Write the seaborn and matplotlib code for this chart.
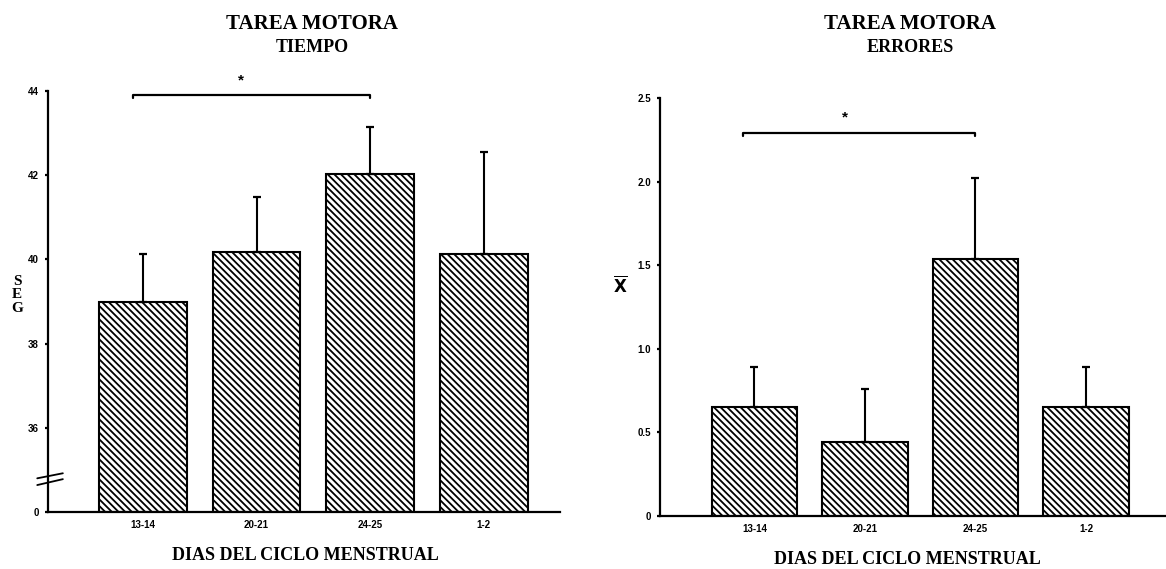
import numpy as np
import matplotlib
matplotlib.use("Agg")
import matplotlib.pyplot as plt
import seaborn as sns

# ---- data ----
categories = ["13-14", "20-21", "24-25", "1-2"]
tiempo_mean = [38.98, 40.17, 42.02, 40.14]
tiempo_err = [1.16, 1.32, 1.12, 2.41]
errores_mean = [0.65, 0.44, 1.54, 0.65]
errores_err = [0.24, 0.32, 0.48, 0.24]
tiempo_ticks = [0, 36, 38, 40, 42, 44]
tiempo_ticklabels = ["0", "36", "38", "40", "42", "44"]
errores_ticks = [0, 0.5, 1.0, 1.5, 2.0, 2.5]
errores_ticklabels = ["0", "0.5", "1.0", "1.5", "2.0", "2.5"]
title_top = "TAREA MOTORA"
title_left = "TIEMPO"
title_right = "ERRORES"
xlabel = "DIAS DEL CICLO MENSTRUAL"
sig_pair = (0, 2)

sns.set_style("white")
plt.rcParams["font.family"] = ["Liberation Sans", "DejaVu Sans"]
plt.rcParams["hatch.linewidth"] = 1.3
plt.rcParams["hatch.color"] = "black"
for k in ["text.color", "axes.labelcolor", "xtick.color", "ytick.color"]:
    plt.rcParams[k] = "black"

W, H = 1166, 569
fig = plt.figure(figsize=(W / 100, H / 100), dpi=100)
axL = fig.add_axes([48 / W, 1 - 512 / H, 512 / W, 421 / H])
axR = fig.add_axes([660 / W, 1 - 516 / H, 505 / W, 418 / H])

serif = ["Liberation Serif", "DejaVu Serif"]
tickfont = dict(fontsize=7, fontweight="bold", color="black")
HATCH = "\\" * 5


def draw(ax, means, errs):
    sns.barplot(x=categories, y=means, ax=ax, color="white", edgecolor="black",
                linewidth=1.5, width=0.77, errorbar=None, hatch=HATCH,
                saturation=1)
    pos = np.arange(len(categories))
    ax.errorbar(pos, means, yerr=[np.zeros(len(errs)), errs], fmt="none",
                ecolor="black", elinewidth=1.5, capsize=3, capthick=1.6, zorder=4)
    for s in ["top", "right"]:
        ax.spines[s].set_visible(False)
    for s in ["left", "bottom"]:
        ax.spines[s].set_linewidth(1.6)
        ax.spines[s].set_color("black")
    ax.tick_params(axis="x", length=0, pad=6)
    ax.tick_params(axis="y", length=2.5, width=1.6, pad=4, direction="out", left=True)
    ax.set_xlabel("")
    ax.set_ylabel("")


# ---- left panel (time, broken axis) ----
draw(axL, tiempo_mean, tiempo_err)


def fwd(v):
    v = np.asarray(v, dtype=float)
    return np.where(v >= 36, v, 34 + v * (2 / 36))


def inv(u):
    u = np.asarray(u, dtype=float)
    return np.where(u >= 36, u, (u - 34) * 18)


axL.set_yscale("function", functions=(fwd, inv))
axL.set_ylim(0, 44)
axL.set_xlim(-0.835, 3.67)
axL.set_yticks(tiempo_ticks)
axL.set_yticklabels(tiempo_ticklabels, **tickfont)
axL.set_xticks(range(len(categories)))
axL.set_xticklabels(categories, **tickfont)
axL.yaxis.set_minor_locator(matplotlib.ticker.NullLocator())

# axis break marks
for (ya, yb) in [(0.080, 0.092), (0.064, 0.078)]:
    axL.plot([-0.021, 0.029], [ya, yb], color="black", lw=1.3,
             transform=axL.transAxes, clip_on=False, zorder=5)

# significance bracket left
yb = 43.9
axL.plot([sig_pair[0] - 0.09, sig_pair[0] - 0.09, sig_pair[1], sig_pair[1]],
         [yb - 0.07, yb, yb, yb - 0.07], color="black", lw=1.6, clip_on=False)
axL.text(0.86, 44.25, "*", ha="center", va="center", fontsize=11,
         fontweight="bold", clip_on=False)

# ---- right panel (errors) ----
draw(axR, errores_mean, errores_err)
axR.set_ylim(0, 2.5)
axR.set_xlim(-0.855, 3.715)
axR.set_yticks(errores_ticks)
axR.set_yticklabels(errores_ticklabels, **tickfont)
axR.set_xticks(range(len(categories)))
axR.set_xticklabels(categories, **tickfont)

yb = 2.29
axR.plot([sig_pair[0] - 0.10, sig_pair[0] - 0.10, sig_pair[1], sig_pair[1]],
         [yb - 0.018, yb, yb, yb - 0.018], color="black", lw=1.6, clip_on=False)
axR.text(0.82, 2.385, "*", ha="center", va="center", fontsize=11,
         fontweight="bold", clip_on=False)

# ---- texts ----
tstyle = dict(family=serif, fontweight="bold", ha="center", va="center",
              color="black")
fig.text(312 / W, 1 - 24 / H, title_top, fontsize=15, **tstyle)
fig.text(312 / W, 1 - 47 / H, title_left, fontsize=13, **tstyle)
fig.text(910 / W, 1 - 24 / H, title_top, fontsize=15, **tstyle)
fig.text(910 / W, 1 - 47 / H, title_right, fontsize=13, **tstyle)

fig.text(305 / W, 1 - 556 / H, xlabel, fontsize=13, **tstyle)
fig.text(907 / W, 1 - 560 / H, xlabel, fontsize=13, **tstyle)

fig.text(17 / W, 1 - 295 / H, "S\nE\nG", fontsize=11, linespacing=1.05, **tstyle)
fig.text(620 / W, 1 - 285 / H, r"$\overline{\mathbf{X}}$", fontsize=12,
         ha="center", va="center", color="black")

fig.savefig("out.png", dpi=100)
